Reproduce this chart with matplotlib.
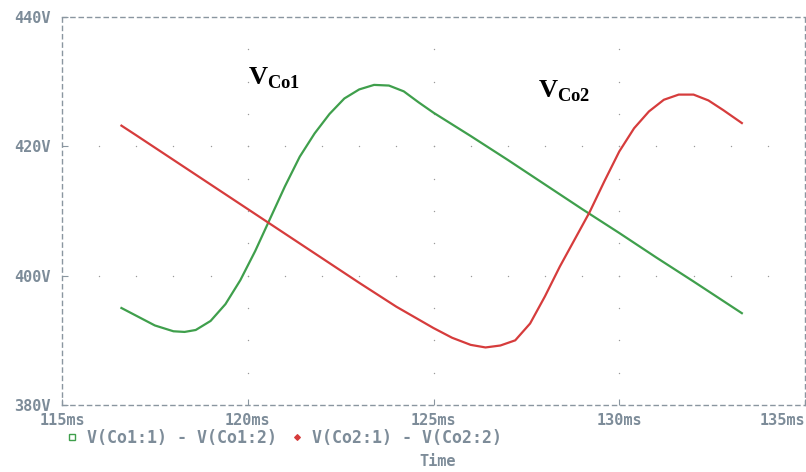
import matplotlib
matplotlib.use("Agg")
import matplotlib.pyplot as plt
from matplotlib.lines import Line2D
import numpy as np

# Differential capacitor voltages (time in ms, voltage in V)
t_co1 = [116.6, 117.0, 117.5, 118.0, 118.3, 118.6, 119.0, 119.4, 119.8, 120.2,
         120.6, 121.0, 121.4, 121.8, 122.2, 122.6, 123.0, 123.4, 123.8, 124.2,
         124.6, 125.0, 125.5, 126.0, 127.0, 128.0, 129.0, 130.0, 131.0, 132.0,
         133.3]
v_co1 = [395.0, 393.8, 392.3, 391.4, 391.3, 391.6, 393.0, 395.6, 399.3, 403.8,
         408.8, 413.8, 418.4, 422.0, 425.0, 427.4, 428.8, 429.5, 429.4, 428.5,
         426.8, 425.2, 423.4, 421.6, 417.9, 414.1, 410.3, 406.6, 402.8, 399.1,
         394.2]

t_co2 = [116.6, 117.0, 118.0, 119.0, 120.0, 121.0, 122.0, 123.0, 124.0, 125.0,
         125.5, 126.0, 126.4, 126.8, 127.2, 127.6, 128.0, 128.4, 128.8, 129.2,
         129.6, 130.0, 130.4, 130.8, 131.2, 131.6, 132.0, 132.4, 132.8, 133.3]
v_co2 = [423.2, 421.7, 417.9, 414.1, 410.3, 406.5, 402.7, 398.9, 395.2, 391.9,
         390.4, 389.3, 388.9, 389.2, 390.0, 392.6, 396.8, 401.4, 405.6, 409.8,
         414.6, 419.2, 422.8, 425.4, 427.2, 428.0, 428.0, 427.1, 425.6, 423.6]

x_ticks = [115, 120, 125, 130, 135]
x_labels = ["115ms", "120ms", "125ms", "130ms", "135ms"]
y_ticks = [380, 400, 420, 440]
y_labels = ["380V", "400V", "420V", "440V"]
legend_labels = ["V(Co1:1) - V(Co1:2)", "V(Co2:1) - V(Co2:2)"]

GREEN = "#3f9f4c"
RED = "#d63c3c"
AXIS = "#7d8c99"
TICKFONT = dict(family="DejaVu Sans Mono", weight="bold", size=11, color=AXIS)

plt.rcParams["mathtext.fontset"] = "custom"
plt.rcParams["mathtext.bf"] = "Liberation Serif:bold"
plt.rcParams["mathtext.rm"] = "Liberation Serif:bold"
plt.rcParams["lines.solid_joinstyle"] = "round"

fig = plt.figure(figsize=(8.06, 4.72), dpi=100)
ax = fig.add_axes([62 / 806, 67 / 472, 743 / 806, 388 / 472])

ax.plot(t_co1, v_co1, color=GREEN, lw=1.6)
ax.plot(t_co2, v_co2, color=RED, lw=1.6)

ax.set_xlim(x_ticks[0], x_ticks[-1])
ax.set_ylim(y_ticks[0], y_ticks[-1])

# Dotted grid: dots along the major lines at minor steps
minor_x = np.arange(x_ticks[0], x_ticks[-1] + 0.001, 1.0)
minor_y = np.arange(y_ticks[0], y_ticks[-1] + 0.001, 5.0)
gx, gy = [], []
for xv in x_ticks[1:-1]:
    for yv in minor_y[1:-1]:
        gx.append(xv); gy.append(yv)
for yv in y_ticks[1:-1]:
    for xv in minor_x[1:-1]:
        gx.append(xv); gy.append(yv)
ax.scatter(gx, gy, s=1.0, color="#9a9a9a", zorder=0, linewidths=0)

for sp in ax.spines.values():
    sp.set_linestyle((0, (3, 3)))
    sp.set_color("#8a96a0")
    sp.set_linewidth(1.0)

ax.set_xticks(x_ticks)
ax.set_xticklabels(x_labels, fontdict=TICKFONT)
ax.get_xticklabels()[-1].set_horizontalalignment("right")
ax.set_yticks(y_ticks)
ax.set_yticklabels(y_labels, fontdict=TICKFONT)
ax.tick_params(direction="in", length=4, color="#8a96a0", pad=6)
ax.tick_params(axis="y", pad=8)

# Curve annotations
ax.text(120.0, 430.5, r"$\mathbf{V}_{\mathbf{Co1}}$", fontsize=19, color="black",
        ha="left", va="center")
ax.text(127.8, 428.6, r"$\mathbf{V}_{\mathbf{Co2}}$", fontsize=19, color="black",
        ha="left", va="center")

# Trace legend under the axis
handles = [Line2D([], [], marker="s", ls="none", mfc="none", mec=GREEN, ms=4.5, mew=1.0),
           Line2D([], [], marker="D", ls="none", mfc=RED, mec=RED, ms=3, mew=0.8)]
leg = fig.legend(handles, legend_labels, loc="center left", ncol=2,
                 bbox_to_anchor=(50 / 806, 1 - 438 / 472), frameon=False,
                 handlelength=0.8, handletextpad=0.5, columnspacing=0.8,
                 prop=dict(family="DejaVu Sans Mono", weight="bold", size=12))
for txt in leg.get_texts():
    txt.set_color(AXIS)

fig.text(438 / 806, 1 - 462 / 472, "Time", ha="center", va="center", **TICKFONT)

fig.savefig("out.png", dpi=100, facecolor="white")
